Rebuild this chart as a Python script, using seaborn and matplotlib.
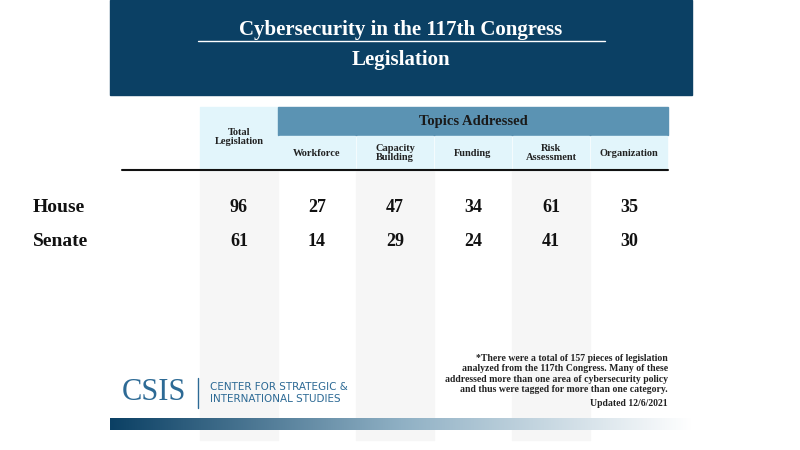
import matplotlib
matplotlib.use("Agg")
import matplotlib.pyplot as plt
import numpy as np
import pandas as pd
import seaborn as sns
from matplotlib.colors import ListedColormap
from matplotlib.patches import Rectangle

chambers = ["House", "Senate"]
columns = ["Total\nLegislation", "Workforce", "Capacity\nBuilding", "Funding", "Risk\nAssessment", "Organization"]
house = [96, 27, 47, 34, 61, 35]
senate = [61, 14, 29, 24, 41, 30]

df = pd.DataFrame([house, senate], index=chambers, columns=columns)

sns.set_theme(style="white")
plt.rcParams["font.family"] = ["Liberation Serif", "DejaVu Serif"]

fig = plt.figure(figsize=(8, 4.5), dpi=100)
bg = fig.add_axes([0, 0, 1, 1])
bg.set_xlim(0, 800); bg.set_ylim(450, 0); bg.axis("off")

# header
bg.add_patch(Rectangle((110, 0), 582, 95, color="#0b4064"))
bg.text(401, 30, "Cybersecurity in the 117th Congress", ha="center", va="center",
        color="white", fontsize=15, fontweight="bold")
bg.plot([198, 605], [41, 41], color="white", lw=1)
bg.text(401, 60, "Legislation", ha="center", va="center", color="white", fontsize=15, fontweight="bold")

x0, cw = 200, 78
# stripes
for i in [0, 2, 4]:
    bg.add_patch(Rectangle((x0 + i * cw, 170), cw, 270, color="#f6f6f6", zorder=0))
bg.add_patch(Rectangle((x0, 107), cw, 63, color="#e2f5fb"))
bg.add_patch(Rectangle((x0 + cw, 107), 5 * cw, 28, color="#5b93b3"))
bg.text(x0 + cw + 2.5 * cw, 121, "Topics Addressed", ha="center", va="center",
        fontsize=10.5, fontweight="bold", color="#1a1a1a")
for i in range(1, 6):
    bg.add_patch(Rectangle((x0 + i * cw + 1, 136), cw - 2, 34, color="#e2f5fb"))
for i, c in enumerate(columns):
    y = 137 if i == 0 else 153
    bg.text(x0 + i * cw + cw / 2, y, c, ha="center", va="center", fontsize=7.5,
            fontweight="bold", color="#222", linespacing=1.1)
bg.plot([122, 668], [170, 170], color="#111", lw=1.5)

# values via heatmap
ax = fig.add_axes([x0 / 800, 1 - 258 / 450, 6 * cw / 800, 68 / 450])
sns.heatmap(df, ax=ax, cmap=ListedColormap([(0, 0, 0, 0)]), cbar=False, annot=True, fmt="d",
            annot_kws={"fontsize": 13, "fontweight": "bold", "color": "#111"})
ax.patch.set_alpha(0)
ax.set_xticks([]); ax.set_ylabel(""); ax.set_xlabel("")
ax.set_yticklabels(ax.get_yticklabels(), rotation=0, fontsize=14, fontweight="bold", color="#111")
for t in ax.get_yticklabels():
    t.set_ha("left"); t.set_x(-0.34)
ax.tick_params(left=False, pad=0)

# footer
bg.text(668, 354, "*There were a total of 157 pieces of legislation\nanalyzed from the 117th Congress. Many of these\n"
        "addressed more than one area of cybersecurity policy\nand thus were tagged for more than one category.",
        ha="right", va="top", fontsize=7, fontweight="bold", color="#222", linespacing=1.2)
bg.text(668, 404, "Updated 12/6/2021", ha="right", va="center", fontsize=7, fontweight="bold", color="#222")
bg.text(122, 393, "CSIS", ha="left", va="center", fontsize=22, color="#2d6a95")
bg.plot([198, 198], [378, 408], color="#2d6a95", lw=1)
bg.text(210, 393, "CENTER FOR STRATEGIC &\nINTERNATIONAL STUDIES", ha="left", va="center", fontsize=7.5,
        color="#2d6a95", family=["DejaVu Sans"], linespacing=1.3)
grad = np.linspace(0, 1, 256)[None, :]
cmap = matplotlib.colors.LinearSegmentedColormap.from_list("g", ["#0b4064", "#8fb0c4", "#ffffff"])
bg.imshow(grad, extent=[110, 692, 430, 418], cmap=cmap, aspect="auto", zorder=1)
bg.set_xlim(0, 800); bg.set_ylim(450, 0)

fig.savefig("out.png", dpi=100)
